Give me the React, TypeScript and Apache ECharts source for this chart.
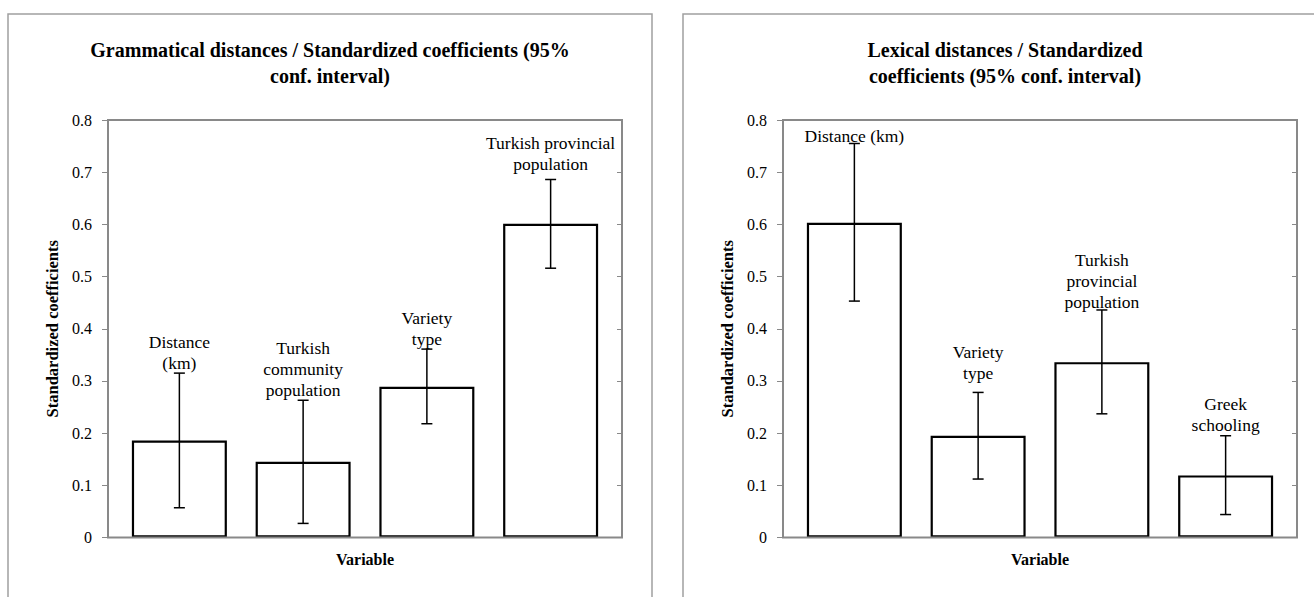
import React, { useEffect, useRef } from "react";
import * as echarts from "echarts";

// ---- Data ----
const leftTitle = "Grammatical distances / Standardized coefficients (95%\nconf. interval)";
const rightTitle = "Lexical distances / Standardized\ncoefficients (95% conf. interval)";
const yAxisName = "Standardized coefficients";
const xAxisName = "Variable";

const leftCategories = ["Distance\n(km)", "Turkish\ncommunity\npopulation", "Variety\ntype", "Turkish provincial\npopulation"];
const leftValues = [0.186, 0.145, 0.289, 0.601];
const leftLow = [0.057, 0.027, 0.218, 0.516];
const leftHigh = [0.315, 0.263, 0.361, 0.686];

const rightCategories = ["Distance (km)", "Variety\ntype", "Turkish\nprovincial\npopulation", "Greek\nschooling"];
const rightValues = [0.603, 0.195, 0.336, 0.119];
const rightLow = [0.453, 0.112, 0.237, 0.044];
const rightHigh = [0.755, 0.278, 0.436, 0.195];

const yMin = 0;
const yMax = 0.8;
const yInterval = 0.1;

// ---- Layout / style (not data) ----
const leftLabelGaps = [0, 0, 0, 5];
const rightLabelGaps = [-3, 9, -3, 0];
const FONT = "Liberation Serif";
const AXIS_GRAY = "#898989";
const PANEL_GRAY = "#a0a0a0";

const PANEL_W = 644;
const PANELS = [
  { px: 8, gridLeft: 117.5, frameLeft: 108 },
  { px: 683, gridLeft: 792.5, frameLeft: 783 },
];
const GRID_TOP = 120;
const GRID_BOTTOM_Y = 537.5;
const GRID_W = 495;
const FRAME_W = 514;

export default function App() {
  const ref = useRef<HTMLDivElement>(null);

  useEffect(() => {
    if (!ref.current) return;
    const chart = echarts.init(ref.current, null, { renderer: "svg" });

    const datasets = [
      { cats: leftCategories, vals: leftValues, lo: leftLow, hi: leftHigh, gaps: leftLabelGaps, title: leftTitle },
      { cats: rightCategories, vals: rightValues, lo: rightLow, hi: rightHigh, gaps: rightLabelGaps, title: rightTitle },
    ];

    const grids: any[] = [];
    const xAxes: any[] = [];
    const yAxes: any[] = [];
    const series: any[] = [];
    const graphics: any[] = [];

    datasets.forEach((d, k) => {
      const p = PANELS[k];
      grids.push({
        left: p.gridLeft,
        top: GRID_TOP,
        width: GRID_W,
        height: GRID_BOTTOM_Y - GRID_TOP,
        containLabel: false,
      });
      xAxes.push({
        type: "category",
        gridIndex: k,
        data: d.cats,
        axisLine: { show: false },
        axisTick: { show: false },
        axisLabel: { show: false },
        name: xAxisName,
        nameLocation: "middle",
        nameGap: 14,
        nameTextStyle: { fontFamily: FONT, fontSize: 16, fontWeight: "bold", color: "#000" },
      });
      yAxes.push({
        type: "value",
        gridIndex: k,
        min: yMin,
        max: yMax,
        interval: yInterval,
        offset: p.gridLeft - p.frameLeft,
        axisLine: { show: false },
        axisTick: { show: true, inside: false, length: 6, lineStyle: { color: AXIS_GRAY, width: 1 } },
        splitLine: { show: false },
        axisLabel: {
          margin: 16,
          fontFamily: FONT,
          fontSize: 16,
          color: "#000",
          formatter: (v: number) => (v === 0 ? "0" : v.toFixed(1)),
        },
        name: yAxisName,
        nameLocation: "middle",
        nameGap: 47,
        nameRotate: 90,
        nameTextStyle: { fontFamily: FONT, fontSize: 16.5, fontWeight: "bold", color: "#000" },
      });
      yAxes.push({
        type: "value",
        gridIndex: k,
        min: yMin,
        max: yMax,
        interval: yInterval,
        offset: p.gridLeft - p.frameLeft,
        axisLine: { show: false },
        axisTick: { show: true, inside: true, length: 5, lineStyle: { color: AXIS_GRAY, width: 1 } },
        splitLine: { show: false },
        axisLabel: { show: false },
      });
      series.push({
        type: "bar",
        xAxisIndex: k,
        yAxisIndex: k * 2,
        data: d.vals,
        barWidth: 95,
        itemStyle: { color: "#ffffff", borderColor: "#000000", borderWidth: 2.2 },
        z: 2,
      });
      const gaps = d.gaps;
      const cats = d.cats;
      series.push({
        type: "custom",
        xAxisIndex: k,
        yAxisIndex: k * 2,
        data: d.lo.map((l, i) => [i, l, d.hi[i]]),
        encode: { x: 0, y: [1, 2] },
        clip: false,
        z: 5,
        renderItem: (params: any, api: any) => {
          const i = api.value(0);
          const lo = api.coord([i, api.value(1)]);
          const hi = api.coord([i, api.value(2)]);
          const x = hi[0];
          const cap = 5.5;
          const ls = { stroke: "#000", lineWidth: 1.5 };
          return {
            type: "group",
            children: [
              { type: "line", shape: { x1: x, y1: hi[1], x2: x, y2: lo[1] }, style: ls },
              { type: "line", shape: { x1: x - cap, y1: hi[1], x2: x + cap, y2: hi[1] }, style: ls },
              { type: "line", shape: { x1: x - cap, y1: lo[1], x2: x + cap, y2: lo[1] }, style: ls },
              {
                type: "text",
                x: x,
                y: hi[1] - gaps[params.dataIndex],
                style: {
                  text: cats[params.dataIndex],
                  align: "center",
                  verticalAlign: "bottom",
                  fontFamily: FONT,
                  fontSize: 17.5,
                  lineHeight: 21,
                  fill: "#000",
                },
              },
            ],
          };
        },
      });

      // panel border
      graphics.push({
        type: "rect",
        z: 0,
        shape: { x: p.px, y: 14, width: PANEL_W, height: 700 },
        style: { fill: "none", stroke: PANEL_GRAY, lineWidth: 1.5 },
        silent: true,
      });
      // plot frame
      graphics.push({
        type: "rect",
        z: 10,
        shape: { x: p.frameLeft, y: GRID_TOP, width: FRAME_W, height: GRID_BOTTOM_Y - GRID_TOP },
        style: { fill: "none", stroke: AXIS_GRAY, lineWidth: 2 },
        silent: true,
      });
      // title
      graphics.push({
        type: "text",
        x: p.px + PANEL_W / 2,
        y: 63,
        style: {
          text: d.title,
          align: "center",
          verticalAlign: "middle",
          fontFamily: FONT,
          fontSize: 20,
          fontWeight: "bold",
          lineHeight: 26,
          fill: "#000",
        },
        silent: true,
      });
    });

    chart.setOption({
      animation: false,
      backgroundColor: "#ffffff",
      grid: grids,
      xAxis: xAxes,
      yAxis: yAxes,
      series,
      graphic: graphics,
    });

    return () => chart.dispose();
  }, []);

  return (
    <div
      ref={ref}
      style={{ position: "fixed", left: 0, top: 0, width: 1314, height: 597, background: "#fff" }}
    />
  );
}
